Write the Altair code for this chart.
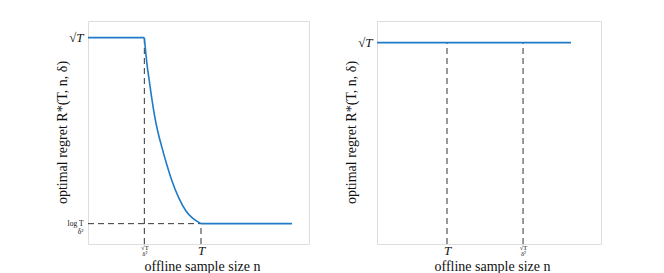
import altair as alt
import pandas as pd

# ---- data ----
# left panel: flat part, decaying part, flat part
flat1_n = [0.0, 2.549]
flat1_r = [9.253, 9.253]
curve_n = [2.549, 2.670, 2.775, 2.881, 3.001, 3.152, 3.348, 3.560, 3.801, 4.103, 4.434, 4.706, 5.113]
curve_r = [9.253, 8.057, 7.309, 6.562, 5.815, 5.067, 4.320, 3.573, 2.825, 2.078, 1.480, 1.181, 0.912]
flat2_n = [5.113, 9.23]
flat2_r = [0.912, 0.912]

right_n = [0.0, 8.66]
right_r = [9.03, 9.03]

# dashed guide segments: x, x2, y, y2
left_guides_x = [2.549, 0.0, 5.113]
left_guides_x2 = [2.549, 5.113, 5.113]
left_guides_y = [0.0, 0.912, 0.0]
left_guides_y2 = [9.253, 0.912, 0.912]

right_guides_x = [3.125, 6.52]
right_guides_y = [0.0, 0.0]
right_guides_y2 = [9.03, 9.03]

# tick positions
left_xticks = [2.549, 5.113]
left_yticks = [0.912, 9.253]
right_xticks = [3.125, 6.52]
right_yticks = [9.03]

BLUE = "#1f7bc8"
DASH = "#333333"
FONT = "Liberation Serif"
YTITLE = "optimal regret R*(T, n, δ)"
XTITLE = "offline sample size n"

flat_df = pd.DataFrame({"n": flat1_n + flat2_n, "r": flat1_r + flat2_r, "seg": [1, 1, 2, 2]})
curve_df = pd.DataFrame({"n": curve_n, "r": curve_r})
right_line = pd.DataFrame({"n": right_n, "r": right_r})
left_g = pd.DataFrame({"x": left_guides_x, "x2": left_guides_x2, "y": left_guides_y, "y2": left_guides_y2})
right_g = pd.DataFrame({"x": right_guides_x, "x2": right_guides_x, "y": right_guides_y, "y2": right_guides_y2})

sc = alt.Scale(domain=[0, 10], nice=False, zero=False)


def xaxis(values, expr, small_test, tx):
    return alt.Axis(
        values=values, labelExpr=expr, title=XTITLE, grid=False, ticks=False, domain=False,
        labelFont=FONT, titleFont=FONT, titleFontWeight="normal", titleFontSize=14,
        labelFontSize={"condition": {"test": small_test, "value": 6.5}, "value": 13},
        labelFontStyle={"condition": {"test": small_test, "value": "normal"}, "value": "italic"},
        labelLineHeight=6.5, labelPadding=0, labelColor="#111", titleColor="#111",
        titleX=tx, titleY=26, titleBaseline="alphabetic", labelFlush=False, labelOverlap=False,
    )


def yaxis(values, expr, small_test, tx):
    return alt.Axis(
        values=values, labelExpr=expr, title=YTITLE, grid=False, ticks=False, domain=False,
        labelFont=FONT, titleFont=FONT, titleFontWeight="normal", titleFontSize=14,
        labelFontSize={"condition": {"test": small_test, "value": 7.5}, "value": 13},
        labelFontStyle={"condition": {"test": small_test, "value": "normal"}, "value": "italic"},
        labelLineHeight=7.5, labelPadding=5, labelColor="#111", titleColor="#111",
        titleX=tx, titleY=111, titleBaseline="bottom", labelFlush=False, labelOverlap=False,
    )


lx = xaxis(left_xticks, "datum.value < 3 ? ['√T', 'δ²'] : 'T'", "datum.value < 3", 114)
ly = yaxis(left_yticks, "datum.value < 3 ? ['log T', 'δ²'] : '√T'", "datum.value < 3", -19)
rx = xaxis(right_xticks, "datum.value > 5 ? ['√T', 'δ²'] : 'T'", "datum.value > 5", 115)
ry = yaxis(right_yticks, "'√T'", "datum.value < 0", -19)

left = alt.layer(
    alt.Chart(left_g).mark_rule(color=DASH, strokeDash=[6, 4], strokeWidth=1).encode(
        x=alt.X("x:Q", scale=sc, axis=lx), x2="x2", y=alt.Y("y:Q", scale=sc, axis=ly), y2="y2"
    ),
    alt.Chart(flat_df).mark_line(color=BLUE, strokeWidth=1.6).encode(
        x=alt.X("n:Q", scale=sc, axis=lx), y=alt.Y("r:Q", scale=sc, axis=ly), detail="seg:N"
    ),
    alt.Chart(curve_df).mark_line(color=BLUE, strokeWidth=1.6, interpolate="monotone").encode(
        x=alt.X("n:Q", scale=sc, axis=lx), y=alt.Y("r:Q", scale=sc, axis=ly)
    ),
).properties(width=221, height=223)

right = alt.layer(
    alt.Chart(right_g).mark_rule(color=DASH, strokeDash=[6, 4], strokeWidth=1).encode(
        x=alt.X("x:Q", scale=sc, axis=rx), x2="x2", y=alt.Y("y:Q", scale=sc, axis=ry), y2="y2"
    ),
    alt.Chart(right_line).mark_line(color=BLUE, strokeWidth=1.6).encode(
        x=alt.X("n:Q", scale=sc, axis=rx), y=alt.Y("r:Q", scale=sc, axis=ry)
    ),
).properties(width=224, height=223)

chart = alt.hconcat(left, right, spacing=33).properties(
    padding={"left": 46, "top": 12, "right": 5, "bottom": 0}
).configure_view(stroke="#8a8a8a", strokeWidth=1).configure(background="white")

chart.save("out.html", embed_options={"renderer": "svg", "actions": False})
